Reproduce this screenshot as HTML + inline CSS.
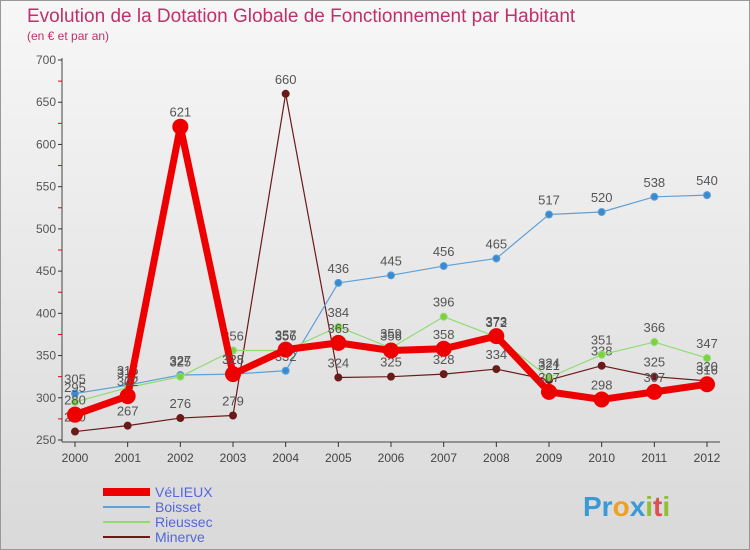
<!DOCTYPE html>
<html><head><meta charset="utf-8"><style>
body{margin:0;width:750px;height:550px;overflow:hidden;font-family:"Liberation Sans",sans-serif}
#bg{position:absolute;left:0;top:0;width:748px;height:548px;border:1px solid #999;background:linear-gradient(#f7f7f7,#d9d9d9)}
</style></head><body>
<div id="bg"></div>
<svg id="c" width="750" height="550" style="position:absolute;left:0;top:0"></svg>
<script>
const years=[2000,2001,2002,2003,2004,2005,2006,2007,2008,2009,2010,2011,2012];
const yTicks=[250,300,350,400,450,500,550,600,650,700];
const velieux=[280,302,621,328,357,365,356,358,373,307,298,307,316];
const boisset=[305,315,327,328,332,436,445,456,465,517,520,538,540];
const rieussec=[295,312,325,356,356,384,359,396,372,324,351,366,347];
const minerve=[260,267,276,279,660,324,325,328,334,321,338,325,320];
const NS='http://www.w3.org/2000/svg';
const svg=document.getElementById('c');
const X=i=>75+i*(707-75)/12;
const Y=v=>440-(v-250)*380/450;
function el(t,a,p){const e=document.createElementNS(NS,t);for(const k in a)e.setAttribute(k,a[k]);(p||svg).appendChild(e);return e;}
let t=el('text',{x:27,y:22,'font-size':19,fill:'#c0306a'});t.textContent='Evolution de la Dotation Globale de Fonctionnement par Habitant';


t=el('text',{x:27,y:40,'font-size':12,fill:'#c0306a'});t.textContent='(en € et par an)';


el('line',{x1:62,y1:58,x2:62,y2:442,stroke:'#444'});
el('line',{x1:62,y1:442,x2:720,y2:442,stroke:'#444'});
yTicks.forEach((v,i)=>{
  el('line',{x1:58,y1:Y(v),x2:62,y2:Y(v),stroke:'#333'});
  if(i<yTicks.length-1) el('line',{x1:58,y1:Y(v+25),x2:62,y2:Y(v+25),stroke:'#e00'});
  const l=el('text',{x:56,y:Y(v)+4,'font-size':12,fill:'#555','text-anchor':'end'});l.textContent=v;
  
  
});
years.forEach((yr,i)=>{
  el('line',{x1:X(i),y1:442,x2:X(i),y2:447,stroke:'#333'});
  const l=el('text',{x:X(i),y:462,'font-size':12,fill:'#444','text-anchor':'middle'});l.textContent=yr;
  
  
});
function series(d,col,w,r,name,dot){
  const g=el('g',{});
  
  
  el('polyline',{points:d.map((v,i)=>X(i)+','+Y(v)).join(' '),fill:'none',stroke:col,'stroke-width':w,'stroke-linejoin':'round'},g);
  d.forEach((v,i)=>{
    const c=el('circle',{cx:X(i),cy:Y(v),r:r,fill:dot,stroke:col,'stroke-width':1},g);
    
    
    const l=el('text',{x:X(i),y:Y(v)-10,'font-size':13,fill:'#555','text-anchor':'middle'},g);l.textContent=v;
  });
}
series(minerve,'#6b1a1a',1.2,3.5,'minerve','#6b1a1a');
series(boisset,'#5fa0d8',1.2,3.5,'boisset','#3a8ad0');
series(rieussec,'#90dc70',1.2,3.5,'rieussec','#7ed040');
series(velieux,'#ee0000',7,7.5,'velieux','#ee0000');
const leg=[['VéLIEUX','#ee0000',8],['Boisset','#5fa0d8',2],['Rieussec','#90dc70',2],['Minerve','#6b1a1a',2]];
leg.forEach((L,i)=>{
  const y=492+i*15;
  const g=el('g',{});
  
  
  el('line',{x1:103,y1:y,x2:150,y2:y,stroke:L[1],'stroke-width':L[2]},g);
  const tt=el('text',{x:155,y:y+5,'font-size':14,fill:'#5566dd'},g);tt.textContent=L[0];
});
const p=el('text',{x:583,y:516,'font-size':28,'font-weight':'bold',fill:'#3a9ad8'});


[['Pr','#3a9ad8'],['o','#f0a020'],['x','#3a9ad8'],['i','#90c030'],['t','#e05050'],['i','#90c030']].forEach(s=>{const ts=el('tspan',{fill:s[1]},p);ts.textContent=s[0];});
</script>
</body></html>
